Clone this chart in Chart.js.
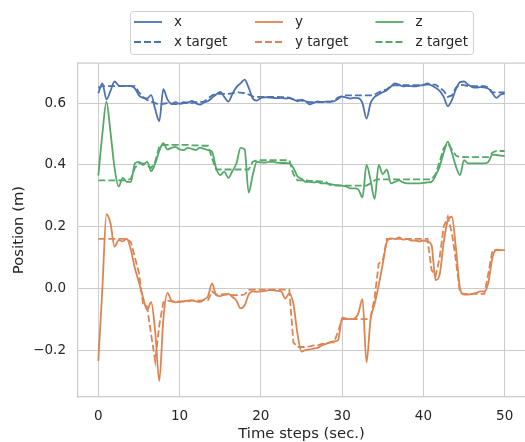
<!DOCTYPE html>
<html>
<head>
<meta charset="utf-8">
<script src="https://cdn.jsdelivr.net/npm/chart.js@4.4.1/dist/chart.umd.min.js"></script>
<style>
  html, body { margin: 0; padding: 0; background: #ffffff; }
  #wrap { width: 525px; height: 442px; position: relative; }
</style>
</head>
<body>
<div id="wrap"><canvas id="c" width="525" height="442"></canvas></div>
<script>
const times = [
  0,0.5,1,1.5,2,2.5,3,3.5,4,4.5,
  5,5.5,6,6.5,7,7.5,8,8.5,9,9.5,
  10,10.5,11,11.5,12,12.5,13,13.5,14,14.5,
  15,15.5,16,16.5,17,17.5,18,18.5,19,19.5,
  20,20.5,21,21.5,22,22.5,23,23.5,24,24.5,
  25,25.5,26,26.5,27,27.5,28,28.5,29,29.5,
  30,30.5,31,31.5,32,32.5,33,33.5,34,34.5,
  35,35.5,36,36.5,37,37.5,38,38.5,39,39.5,
  40,40.5,41,41.5,42,42.5,43,43.5,44,44.5,
  45,45.5,46,46.5,47,47.5,48,48.5,49,49.5,
  50
];

const xVals = [
  0.632,0.664,0.612,0.640,0.670,0.657,0.655,0.656,0.655,0.648,
  0.625,0.617,0.615,0.626,0.580,0.542,0.645,0.612,0.598,0.603,
  0.598,0.603,0.602,0.607,0.600,0.595,0.602,0.607,0.617,0.628,
  0.636,0.620,0.605,0.630,0.652,0.664,0.676,0.650,0.615,0.608,
  0.617,0.619,0.618,0.617,0.616,0.617,0.615,0.616,0.612,0.606,
  0.611,0.606,0.596,0.601,0.606,0.603,0.605,0.604,0.606,0.614,
  0.621,0.618,0.615,0.617,0.616,0.600,0.550,0.600,0.620,0.628,
  0.635,0.642,0.654,0.664,0.660,0.654,0.656,0.655,0.654,0.657,
  0.658,0.664,0.657,0.650,0.640,0.620,0.590,0.610,0.645,0.668,
  0.670,0.660,0.652,0.650,0.652,0.651,0.647,0.632,0.617,0.628,
  0.631
];

const xTarget = [
  0.650,0.655,0.655,0.655,0.655,0.655,0.655,0.655,0.655,0.655,
  0.635,0.620,0.610,0.605,0.600,0.595,0.598,0.600,0.598,0.597,
  0.597,0.600,0.600,0.600,0.603,0.603,0.605,0.615,0.625,0.630,
  0.630,0.630,0.630,0.632,0.635,0.634,0.632,0.628,0.622,0.620,
  0.620,0.620,0.620,0.620,0.620,0.619,0.619,0.618,0.612,0.610,
  0.608,0.605,0.603,0.603,0.603,0.603,0.605,0.605,0.608,0.618,
  0.623,0.625,0.625,0.625,0.625,0.625,0.625,0.625,0.628,0.635,
  0.640,0.645,0.655,0.658,0.658,0.658,0.658,0.658,0.658,0.658,
  0.660,0.660,0.660,0.660,0.650,0.640,0.620,0.625,0.650,0.660,
  0.658,0.655,0.655,0.655,0.655,0.655,0.650,0.635,0.635,0.635,
  0.635
];

const yVals = [
  -0.235,0.000,0.240,0.210,0.135,0.156,0.152,0.160,0.125,0.065,
  0.020,-0.030,-0.070,-0.045,-0.140,-0.300,-0.100,-0.015,-0.040,-0.045,
  -0.044,-0.042,-0.040,-0.038,-0.042,-0.044,-0.036,-0.025,0.016,-0.022,
  -0.025,-0.020,-0.018,-0.028,-0.040,-0.065,-0.055,-0.020,-0.010,-0.011,
  -0.010,-0.008,-0.006,-0.006,-0.008,-0.010,-0.033,-0.016,-0.050,-0.146,
  -0.205,-0.200,-0.198,-0.195,-0.193,-0.185,-0.180,-0.175,-0.172,-0.168,
  -0.095,-0.098,-0.100,-0.098,-0.080,-0.035,-0.240,-0.100,-0.050,0.010,
  0.080,0.150,0.162,0.160,0.165,0.158,0.160,0.155,0.155,0.152,
  0.155,0.152,0.140,0.027,0.045,0.150,0.220,0.232,0.130,0.000,
  -0.020,-0.020,-0.018,-0.015,-0.010,-0.010,0.020,0.100,0.125,0.124,
  0.124
];

const yTarget = [
  0.160,0.160,0.160,0.160,0.160,0.160,0.160,0.160,0.150,0.100,
  0.050,-0.050,-0.060,-0.150,-0.235,-0.120,-0.045,-0.040,-0.042,-0.042,
  -0.042,-0.042,-0.042,-0.040,-0.040,-0.040,-0.038,-0.038,-0.010,-0.020,
  -0.020,-0.020,-0.020,-0.022,-0.022,-0.022,-0.020,-0.005,-0.004,-0.004,
  -0.004,-0.004,-0.004,-0.004,-0.004,-0.004,-0.004,-0.004,-0.175,-0.190,
  -0.190,-0.190,-0.188,-0.185,-0.185,-0.180,-0.178,-0.175,-0.175,-0.140,
  -0.100,-0.100,-0.100,-0.100,-0.100,-0.100,-0.100,-0.095,-0.030,0.080,
  0.090,0.160,0.160,0.160,0.160,0.160,0.160,0.160,0.160,0.160,
  0.160,0.160,0.060,0.040,0.100,0.200,0.232,0.180,0.090,-0.015,
  -0.018,-0.018,-0.018,-0.018,-0.018,-0.018,0.050,0.124,0.124,0.124,
  0.124
];

const zVals = [
  0.365,0.500,0.605,0.505,0.390,0.330,0.358,0.345,0.345,0.405,
  0.410,0.400,0.410,0.380,0.405,0.445,0.470,0.450,0.455,0.458,
  0.450,0.448,0.455,0.452,0.448,0.456,0.452,0.448,0.442,0.388,
  0.367,0.378,0.358,0.380,0.405,0.455,0.450,0.310,0.367,0.410,
  0.408,0.407,0.410,0.410,0.407,0.406,0.406,0.405,0.390,0.363,
  0.355,0.345,0.345,0.343,0.345,0.340,0.340,0.338,0.335,0.334,
  0.333,0.330,0.324,0.324,0.320,0.295,0.400,0.350,0.290,0.400,
  0.370,0.385,0.340,0.345,0.350,0.343,0.340,0.340,0.340,0.340,
  0.342,0.343,0.345,0.365,0.395,0.440,0.475,0.440,0.395,0.367,
  0.415,0.405,0.405,0.405,0.405,0.405,0.410,0.433,0.432,0.430,
  0.428
];

const zTarget = [
  0.350,0.350,0.350,0.350,0.350,0.350,0.350,0.350,0.355,0.390,
  0.405,0.405,0.400,0.390,0.410,0.460,0.465,0.465,0.465,0.465,
  0.465,0.465,0.465,0.463,0.463,0.463,0.462,0.462,0.420,0.385,
  0.385,0.385,0.385,0.385,0.385,0.385,0.385,0.385,0.410,0.415,
  0.415,0.415,0.415,0.415,0.415,0.415,0.415,0.415,0.370,0.350,
  0.350,0.350,0.348,0.348,0.347,0.346,0.345,0.335,0.333,0.333,
  0.333,0.333,0.333,0.333,0.333,0.333,0.333,0.340,0.350,0.353,
  0.353,0.353,0.353,0.353,0.353,0.353,0.353,0.353,0.353,0.353,
  0.353,0.353,0.353,0.370,0.410,0.455,0.470,0.450,0.430,0.425,
  0.425,0.425,0.425,0.425,0.425,0.425,0.425,0.440,0.445,0.445,
  0.445
];

const xTickValues = [0, 10, 20, 30, 40, 50];
const yTickValues = [-0.2, 0.0, 0.2, 0.4, 0.6];
const seriesLabels = ['x', 'x target', 'y', 'y target', 'z', 'z target'];

const BLUE = '#4c72b0', ORANGE = '#dd8452', GREEN = '#55a868';
const TEXT = '#262626', GRID = '#cccccc';
const FONT = "'DejaVu Sans', sans-serif";
const DASH = [7, 3];

function pts(vals) { return times.map((t, i) => ({ x: t, y: vals[i] })); }

const seriesDefs = [
  { label: seriesLabels[0], vals: xVals, color: BLUE, dash: [] },
  { label: seriesLabels[1], vals: xTarget, color: BLUE, dash: DASH },
  { label: seriesLabels[2], vals: yVals, color: ORANGE, dash: [] },
  { label: seriesLabels[3], vals: yTarget, color: ORANGE, dash: DASH },
  { label: seriesLabels[4], vals: zVals, color: GREEN, dash: [] },
  { label: seriesLabels[5], vals: zTarget, color: GREEN, dash: DASH }
];

const datasets = seriesDefs.map((s, i) => ({
  label: s.label,
  data: pts(s.vals),
  borderColor: s.color,
  backgroundColor: s.color,
  borderDash: s.dash,
  borderWidth: 1.8,
  pointRadius: 0,
  tension: 0,
  cubicInterpolationMode: s.dash.length ? 'default' : 'monotone',
  fill: false,
  order: seriesDefs.length - i
}));

const legendPlugin = {
  id: 'mplLegend',
  afterDraw(chart) {
    const ctx = chart.ctx;
    ctx.save();
    const ca = chart.chartArea;
    ctx.strokeStyle = GRID;
    ctx.lineWidth = 1.25;
    ctx.setLineDash([]);
    ctx.beginPath();
    ctx.moveTo(ca.left, ca.top);
    ctx.lineTo(ca.right, ca.top);
    ctx.stroke();

    const bx = 130.5, by = 11.5, bw = 343, bh = 43, r = 3;
    ctx.fillStyle = 'rgba(255,255,255,0.85)';
    ctx.strokeStyle = 'rgba(204,204,204,0.9)';
    ctx.lineWidth = 1;
    ctx.beginPath();
    ctx.moveTo(bx + r, by);
    ctx.lineTo(bx + bw - r, by);
    ctx.arcTo(bx + bw, by, bx + bw, by + r, r);
    ctx.lineTo(bx + bw, by + bh - r);
    ctx.arcTo(bx + bw, by + bh, bx + bw - r, by + bh, r);
    ctx.lineTo(bx + r, by + bh);
    ctx.arcTo(bx, by + bh, bx, by + bh - r, r);
    ctx.lineTo(bx, by + r);
    ctx.arcTo(bx, by, bx + r, by, r);
    ctx.closePath();
    ctx.fill();
    ctx.stroke();

    const colX = [134, 255, 375.5];
    const rowY = [22, 42];
    ctx.font = "13.5px " + FONT;
    ctx.textBaseline = 'middle';
    ctx.textAlign = 'left';
    chart.data.datasets.forEach((ds, i) => {
      const col = Math.floor(i / 2), row = i % 2;
      const x0 = colX[col], y0 = rowY[row];
      ctx.strokeStyle = ds.borderColor;
      ctx.lineWidth = 1.8;
      ctx.setLineDash(ds.borderDash || []);
      ctx.beginPath();
      ctx.moveTo(x0, y0);
      ctx.lineTo(x0 + 28, y0);
      ctx.stroke();
      ctx.setLineDash([]);
      ctx.fillStyle = TEXT;
      ctx.fillText(ds.label, x0 + 40, y0 + 0.5);
    });
    ctx.restore();
  }
};

new Chart(document.getElementById('c'), {
  type: 'line',
  data: { datasets },
  plugins: [legendPlugin],
  options: {
    responsive: false,
    animation: false,
    devicePixelRatio: 1,
    layout: { padding: { top: 63, left: 0, right: 0, bottom: 0 } },
    plugins: { legend: { display: false }, tooltip: { enabled: false } },
    scales: {
      x: {
        type: 'linear',
        min: -2.5,
        max: 52.5,
        afterBuildTicks: s => { s.ticks = xTickValues.map(v => ({ value: v })); },
        afterFit: s => { s.height = 45; },
        grid: { color: GRID, lineWidth: 1, drawTicks: false },
        border: { display: true, color: GRID, width: 1.25 },
        ticks: {
          padding: 11,
          color: TEXT,
          font: { family: FONT, size: 13.5 },
          maxRotation: 0,
          autoSkip: false,
          callback: v => String(v)
        },
        title: {
          display: true,
          text: 'Time steps (sec.)',
          color: TEXT,
          font: { family: FONT, size: 14.8, lineHeight: 1.0 },
          padding: { top: 0, bottom: 0 }
        }
      },
      y: {
        type: 'linear',
        min: -0.352,
        max: 0.73,
        afterBuildTicks: s => { s.ticks = yTickValues.map(v => ({ value: v })); },
        afterFit: s => { s.width = 78; },
        grid: { color: GRID, lineWidth: 1, drawTicks: false },
        border: { display: true, color: GRID, width: 1.25 },
        ticks: {
          padding: 12,
          color: TEXT,
          font: { family: FONT, size: 13.5 },
          autoSkip: false,
          callback: v => v.toFixed(1).replace('-', '\u2212')
        },
        title: {
          display: true,
          text: 'Position (m)',
          color: TEXT,
          font: { family: FONT, size: 14.8, lineHeight: 1.2 },
          padding: { top: 10, bottom: 0 }
        }
      }
    }
  }
});
</script>
</body>
</html>
